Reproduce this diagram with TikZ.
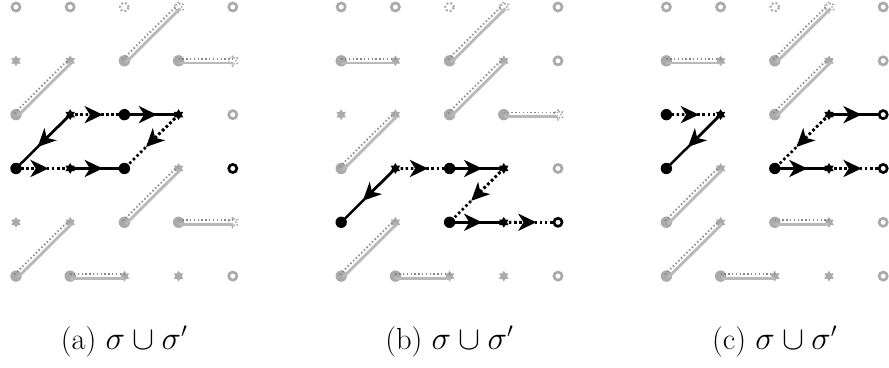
\documentclass[tikz,border=0pt]{standalone}
\usetikzlibrary{shapes.geometric,arrows.meta,calc}
\pgfdeclarelayer{bg}
\pgfsetlayers{bg,main}
\definecolor{lg}{RGB}{170,170,170}
\definecolor{lgl}{RGB}{185,185,185}
\definecolor{dg}{RGB}{135,135,135}
\tikzset{
 gdot/.style={circle,fill=lg,inner sep=0,minimum size=0.21cm},
 gstar/.style={star,star points=6,star point ratio=1.7,fill=lg,inner sep=0,minimum size=0.2cm},
 gring/.style={circle,draw=lg,line width=1.4pt,fill=white,inner sep=0,minimum size=0.15cm},
 gdring/.style={circle,draw=lg,dash pattern=on 1pt off 1.1pt,line width=1.1pt,inner sep=0,minimum size=0.16cm},
 gdstar/.style={star,star points=6,star point ratio=1.7,draw=lg,dash pattern=on 0.8pt off 0.9pt,line width=0.8pt,inner sep=0,minimum size=0.19cm},
 bdot/.style={circle,fill=black,inner sep=0,minimum size=0.21cm},
 bstar/.style={star,star points=6,star point ratio=1.7,fill=black,inner sep=0,minimum size=0.2cm},
 bring/.style={circle,draw=black,line width=1.4pt,fill=white,inner sep=0,minimum size=0.15cm},
 tip/.style={-{Stealth[length=9.5pt,width=9pt,inset=2.8pt]}},
 bsolid/.style={line width=1.3pt},
 bdots/.style={line width=1.4pt,dash pattern=on 1.3pt off 1.4pt},
 gsolid/.style={line width=1.5pt,draw=lgl},
 gdots/.style={line width=1pt,draw=dg,dash pattern=on 0.7pt off 1.3pt},
 capt/.style={anchor=base,inner sep=0,font=\fontsize{16}{19}\selectfont},
}
\newcommand\gridrow[4]{\foreach \t [count=\c from 0] in {#4} {\node[\t] (#1\c#3) at ({#2+\c},{-#3}) {};}}
\newcommand\gedge[2]{%
 \draw[gsolid] ($(#1)!0.04cm!-90:(#2)$) -- ($(#2)!0.04cm!90:(#1)$);
 \draw[gdots] ($(#1)!0.04cm!90:(#2)$) -- ($(#2)!0.04cm!-90:(#1)$);}
\newcommand\bsol[2]{\begin{pgfonlayer}{bg}\draw[bsolid] (#1.center) -- (#2.center);
 \draw[bsolid,tip] (#1.center) -- ($(#1)!0.6!(#2)$);\end{pgfonlayer}}
\newcommand\bdotted[2]{\begin{pgfonlayer}{bg}\draw[bdots] (#1.center) -- (#2.center);
 \draw[bdots,tip] (#1.center) -- ($(#1)!0.6!(#2)$);\end{pgfonlayer}}
\begin{document}
\begin{tikzpicture}[y=0.993cm]
\useasboundingbox (-0.295,0.13) rectangle (16.107,-6.707);
% ---------- panel (a)
\gridrow{a}{0}{0}{gring,gring,gdring,gdstar,gring}
\gridrow{a}{0}{1}{gstar,gstar,gdot,gdot,gdstar}
\gridrow{a}{0}{2}{gdot,bstar,bdot,bstar,gring}
\gridrow{a}{0}{3}{bdot,bstar,bdot,gstar,bring}
\gridrow{a}{0}{4}{gstar,gstar,gdot,gdot,gdstar}
\gridrow{a}{0}{5}{gdot,gdot,gstar,gstar,gring}
\gedge{a02}{a11}
\gedge{a21}{a30}
\gedge{a31}{a41}
\gedge{a05}{a14}
\gedge{a24}{a33}
\gedge{a34}{a44}
\gedge{a15}{a25}
\bsol{a12}{a03}
\bdotted{a12}{a22}
\bsol{a22}{a32}
\bdotted{a32}{a23}
\bdotted{a03}{a13}
\bsol{a13}{a23}
\node[capt] (capa) at (2,-6.37) {(a) $\sigma\cup\sigma'$};
% ---------- panel (b)
\gridrow{b}{6}{0}{gring,gring,gdring,gdstar,gring}
\gridrow{b}{6}{1}{gdot,gstar,gdot,gstar,gring}
\gridrow{b}{6}{2}{gstar,gstar,gdot,gdot,gdstar}
\gridrow{b}{6}{3}{gdot,bstar,bdot,bstar,gring}
\gridrow{b}{6}{4}{bdot,gstar,bdot,bstar,bring}
\gridrow{b}{6}{5}{gdot,gdot,gstar,gstar,gring}
\gedge{b01}{b11}
\gedge{b21}{b30}
\gedge{b03}{b12}
\gedge{b22}{b31}
\gedge{b32}{b42}
\gedge{b05}{b14}
\gedge{b15}{b25}
\bsol{b13}{b04}
\bdotted{b13}{b23}
\bsol{b23}{b33}
\bdotted{b33}{b24}
\bsol{b24}{b34}
\bdotted{b34}{b44}
\node[capt] (capb) at (8,-6.37) {(b) $\sigma\cup\sigma'$};
% ---------- panel (c)
\gridrow{c}{12}{0}{gring,gring,gdring,gdstar,gring}
\gridrow{c}{12}{1}{gdot,gstar,gdot,gstar,gring}
\gridrow{c}{12}{2}{bdot,bstar,gdot,bstar,bring}
\gridrow{c}{12}{3}{bdot,gstar,bdot,bstar,bring}
\gridrow{c}{12}{4}{gdot,gstar,gdot,gstar,gring}
\gridrow{c}{12}{5}{gdot,gdot,gstar,gstar,gring}
\gedge{c01}{c11}
\gedge{c21}{c30}
\gedge{c22}{c31}
\gedge{c04}{c13}
\gedge{c05}{c14}
\gedge{c24}{c34}
\gedge{c15}{c25}
\bdotted{c02}{c12}
\bsol{c12}{c03}
\bsol{c32}{c42}
\bdotted{c32}{c23}
\bsol{c23}{c33}
\bdotted{c33}{c43}
\node[capt] (capc) at (14,-6.37) {(c) $\sigma\cup\sigma'$};
\end{tikzpicture}
\end{document}
